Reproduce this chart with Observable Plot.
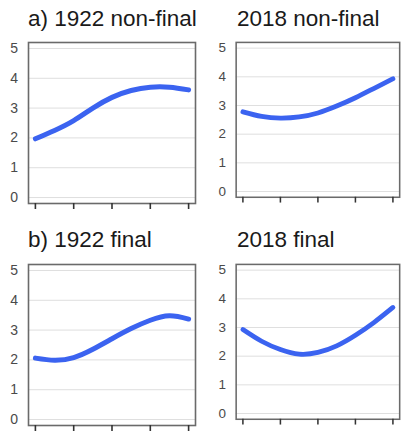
<!DOCTYPE html>
<html>
<head>
<meta charset="utf-8">
<script src="https://cdn.jsdelivr.net/npm/d3@7"></script>
<script src="https://cdn.jsdelivr.net/npm/@observablehq/plot@0.6"></script>
<style>
  html, body { margin: 0; padding: 0; background: #fff; }
  body { width: 404px; height: 431px; overflow: hidden; position: relative; font-family: "Liberation Sans", Arial, sans-serif; }
  .title { position: absolute; font-size: 22.5px; color: #1a1a1a; line-height: 1; white-space: nowrap; }
  .panel { position: absolute; }
</style>
</head>
<body>
<div id="root"></div>
<script>
// Data
const xs = [0, 0.5, 1, 1.5, 2, 2.5, 3, 3.5, 4];
const panelTitles = ["a) 1922 non-final", "2018 non-final", "b) 1922 final", "2018 final"];
const y1922NonFinal = [1.97, 2.25, 2.58, 3.0, 3.36, 3.59, 3.70, 3.70, 3.61];
const y2018NonFinal = [2.78, 2.62, 2.56, 2.60, 2.74, 2.98, 3.27, 3.60, 3.93];
const y1922Final    = [2.06, 1.99, 2.08, 2.36, 2.71, 3.05, 3.33, 3.48, 3.37];
const y2018Final    = [2.93, 2.52, 2.23, 2.07, 2.13, 2.36, 2.73, 3.18, 3.70];
const yTicks = [0, 1, 2, 3, 4, 5];
const xTicks = [0, 1, 2, 3, 4];

const series = [y1922NonFinal, y2018NonFinal, y1922Final, y2018Final];
const layout = [
  {left: 0,   top: 40,  titleLeft: 28,  titleTop: 8,   marginLeft: 28, width: 202, marginRight: 7},
  {left: 202, top: 40,  titleLeft: 237, titleTop: 8,   marginLeft: 35, width: 210, marginRight: 5},
  {left: 0,   top: 262, titleLeft: 28,  titleTop: 229, marginLeft: 28, width: 202, marginRight: 7},
  {left: 202, top: 262, titleLeft: 237, titleTop: 229, marginLeft: 35, width: 210, marginRight: 5}
];

const root = document.getElementById("root");
series.forEach((ys, i) => {
  const L = layout[i];
  const data = xs.map((x, k) => ({x, y: ys[k]}));
  const t = document.createElement("div");
  t.className = "title";
  t.style.left = L.titleLeft + "px";
  t.style.top = L.titleTop + "px";
  t.textContent = panelTitles[i];
  root.appendChild(t);

  const chart = Plot.plot({
    width: L.width,
    height: 2 + 161 + 12,
    marginTop: 2,
    marginBottom: 12,
    marginLeft: L.marginLeft,
    marginRight: L.marginRight,
    style: {fontFamily: '"Liberation Sans", Arial, sans-serif', background: "transparent", overflow: "visible"},
    x: {domain: [-0.18, 4.18]},
    y: {domain: [-0.2, 5.2]},
    marks: [
      Plot.gridY(yTicks, {stroke: "#dedede", strokeOpacity: 1, strokeWidth: 1}),
      Plot.frame({stroke: "#6a6a6a", strokeWidth: 1.6}),
      Plot.axisY({ticks: yTicks, tickFormat: "d", tickSize: 0, tickPadding: 10.5, fontSize: 14, fill: "#4a4a4a", label: null}),
      Plot.axisX({ticks: xTicks, tickFormat: () => "", tickSize: 6, stroke: "#333", strokeWidth: 1.6, label: null}),
      Plot.line(data, {x: "x", y: "y", stroke: "#3b63f0", strokeWidth: 5, curve: "natural"})
    ]
  });
  chart.querySelectorAll("text").forEach(el => { el.setAttribute("font-size", "14"); el.style.fontSize = "14px"; });
  const wrap = document.createElement("div");
  wrap.className = "panel";
  wrap.style.left = L.left + "px";
  wrap.style.top = L.top + "px";
  wrap.appendChild(chart);
  root.appendChild(wrap);
});
</script>
</body>
</html>
